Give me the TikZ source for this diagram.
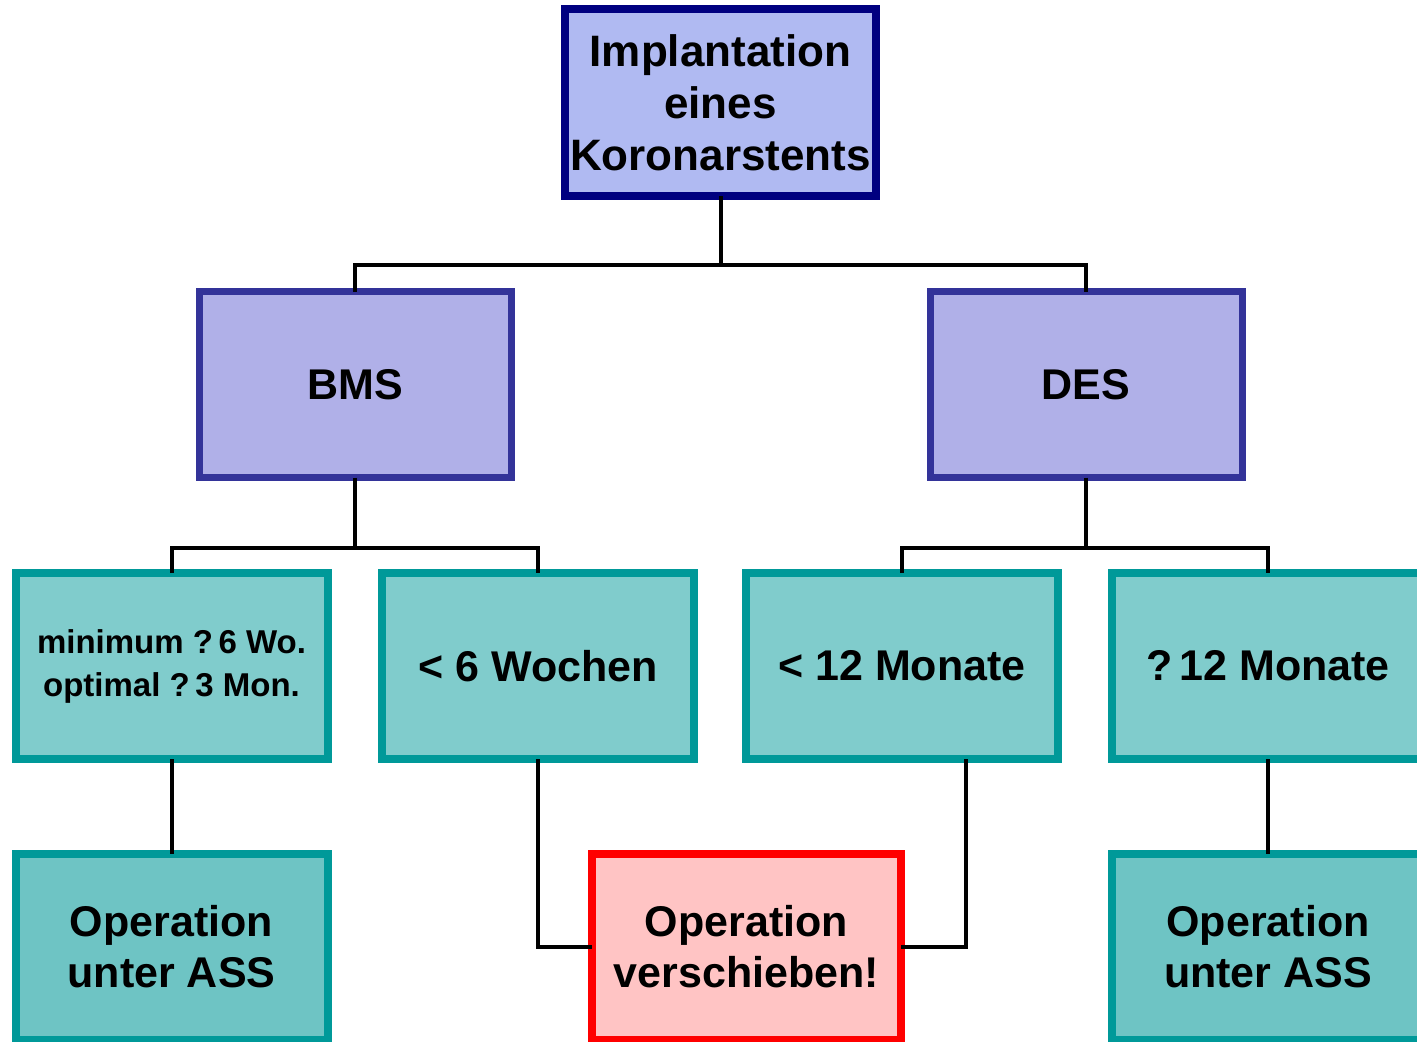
\documentclass[tikz,border=0pt]{standalone}
\usepackage{fontspec}
\setmainfont{Liberation Sans}
\begin{document}
\begin{tikzpicture}[x=0.5pt,y=-0.5pt,
  box/.style={rectangle, draw, line width=4pt, outer sep=0pt, inner sep=2pt,
    minimum width=156pt, minimum height=93pt, align=center,
    font=\fontsize{21.5}{25.5}\selectfont\bfseries},
  topbox/.style={box, draw={rgb,255:red,0;green,0;blue,128}, fill={rgb,255:red,176;green,186;blue,242},
    minimum width=155.5pt, minimum height=93.5pt, font=\fontsize{22}{26}\selectfont\bfseries},
  stentbox/.style={box, draw={rgb,255:red,51;green,51;blue,153}, fill={rgb,255:red,176;green,176;blue,232}, line width=3.5pt},
  timebox/.style={box, draw={rgb,255:red,0;green,153;blue,153}, fill={rgb,255:red,128;green,204;blue,204}},
  opbox/.style={box, draw={rgb,255:red,0;green,153;blue,153}, fill={rgb,255:red,110;green,196;blue,196}},
  stopbox/.style={box, draw={rgb,255:red,255;green,0;blue,0}, fill={rgb,255:red,255;green,196;blue,196}, minimum width=154.5pt},
  conn/.style={draw=black, line width=2pt}
]
\useasboundingbox (0,0) rectangle (1417,1041);
\clip (0,0) rectangle (1417,1041);
\fill[white] (0,0) rectangle (1417,1041);

\node[topbox] (top) at (720.5,102.5) {Implantation\\eines\\Koronarstents};
\node[stentbox] (bms) at (355,384.5) {BMS};
\node[stentbox] (des) at (1086,384.5) {DES};

\node[timebox, font=\fontsize{16.5}{21.5}\selectfont\bfseries] (min) at (171.5,666) {minimum ?\,6 Wo.\\optimal ?\,3 Mon.};
\node[timebox] (w6) at (538,666) {< 6 Wochen};
\node[timebox] (m12) at (902,666) {< 12 Monate};
\node[timebox] (g12) at (1268,666) {?\,12 Monate};

\node[opbox] (opl) at (171.5,947) {Operation\\unter ASS};
\node[stopbox] (stop) at (746.5,947) {Operation\\verschieben!};
\node[opbox] (opr) at (1268,947) {Operation\\unter ASS};

\draw[conn] (top.south) -- ++(0,69) coordinate (j1);
\draw[conn] (bms.north) |- (j1) -| (des.north);

\draw[conn] (bms.south) -- ++(0,70) coordinate (j2);
\draw[conn] (min.north) |- (j2) -| (w6.north);

\draw[conn] (des.south) -- ++(0,70) coordinate (j3);
\draw[conn] (m12.north) |- (j3) -| (g12.north);

\draw[conn] (min.south) -- (opl.north);
\draw[conn] (g12.south) -- (opr.north);
\draw[conn] (w6.south) |- (stop.west);
\draw[conn] ([xshift=32pt]m12.south) |- (stop.east);
\end{tikzpicture}
\end{document}
